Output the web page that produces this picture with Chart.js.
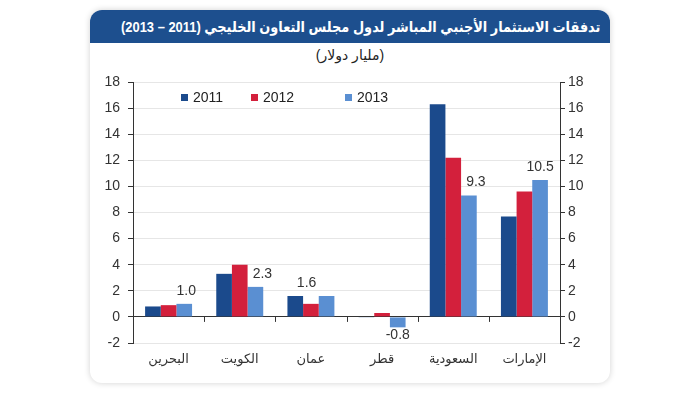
<!DOCTYPE html>
<html lang="ar">
<head>
<meta charset="utf-8">
<script src="https://cdn.jsdelivr.net/npm/chart.js@4.4.1/dist/chart.umd.min.js"></script>
<style>
  body { margin: 0; width: 700px; height: 393px; background: #fff; font-family: "Liberation Sans", "DejaVu Sans", sans-serif; position: relative; overflow: hidden; }
  .card { position: absolute; left: 90px; top: 10px; width: 520px; height: 373px; background: #fff; border-radius: 12px; box-shadow: 0 0 6px rgba(0,0,0,0.18); }
  .head { position: relative; height: 33px; background: #1d4f8e; border-radius: 12px 12px 0 0; color: #fff; font-weight: bold; font-size: 15px; line-height: 33px; white-space: nowrap; overflow: hidden; }
  .head span { position: absolute; right: 10px; top: 0; direction: rtl; transform: scaleX(0.86); transform-origin: right center; }
  .sub { text-align: center; font-size: 14px; color: #222; margin-top: 4px; direction: rtl; }
  #wrap { position: absolute; left: 90px; top: 62px; width: 520px; height: 313px; }
  .legend { position: absolute; top: 89px; left: 181px; font-size: 14px; color: #222; }
  .legend span { position: absolute; top: 0; display: flex; align-items: center; white-space: nowrap; }
  .legend i { display: inline-block; width: 7px; height: 7px; margin-right: 5px; }
</style>
</head>
<body>
<div class="card">
  <div class="head"><span>تدفقات الاستثمار الأجنبي المباشر لدول مجلس التعاون الخليجي (2011 – 2013)</span></div>
  <div class="sub">(مليار دولار)</div>
</div>
<div id="wrap"><canvas id="chart"></canvas></div>
<div class="legend" id="legend"></div>
<script>
const countries = ["البحرين", "الكويت", "عمان", "قطر", "السعودية", "الإمارات"];
const years = ["2011", "2012", "2013"];
const fdi2011 = [0.8, 3.3, 1.6, -0.05, 16.3, 7.7];
const fdi2012 = [0.9, 4.0, 1.0, 0.3, 12.2, 9.6];
const fdi2013 = [1.0, 2.3, 1.6, -0.8, 9.3, 10.5];
const yTicks = [-2, 0, 2, 4, 6, 8, 10, 12, 14, 16, 18];

const colors = ["#1b4a8c", "#d3203c", "#5a8fd2"];
const labelShift = [2, 7, -20, 0, 7, 0];
const legendLeft = [0, 70, 164];

const legend = document.getElementById("legend");
years.forEach((y, i) => {
  legend.innerHTML += '<span style="left:' + legendLeft[i] + 'px"><i style="background:' + colors[i] + '"></i>' + y + "</span>";
});

// labels on the 2013 bars
const valueLabels = {
  id: "valueLabels",
  afterDatasetsDraw(chart) {
    const ctx = chart.ctx;
    const meta = chart.getDatasetMeta(2);
    ctx.save();
    ctx.font = "14px 'Liberation Sans', sans-serif";
    ctx.fillStyle = "#333";
    ctx.textAlign = "center";
    meta.data.forEach((bar, i) => {
      const v = fdi2013[i];
      if (v >= 0) {
        ctx.textBaseline = "bottom";
        ctx.fillText(v.toFixed(1), bar.x + labelShift[i], bar.y - 6);
      } else {
        ctx.textBaseline = "top";
        ctx.fillText(v.toFixed(1), bar.x + labelShift[i], bar.y + 1);
      }
    });
    ctx.restore();
  }
};

// small ticks on the zero line between categories
const zeroTicks = {
  id: "zeroTicks",
  afterDatasetsDraw(chart) {
    const x = chart.scales.x, y = chart.scales.y;
    const y0 = y.getPixelForValue(0);
    const ctx = chart.ctx;
    ctx.save();
    ctx.strokeStyle = "#333";
    ctx.lineWidth = 1;
    for (let i = 1; i < countries.length; i++) {
      const px = Math.round((x.getPixelForValue(i - 1) + x.getPixelForValue(i)) / 2) + 0.5;
      ctx.beginPath();
      ctx.moveTo(px, y0);
      ctx.lineTo(px, y0 + 5);
      ctx.stroke();
    }
    ctx.restore();
  }
};

const tickFont = { family: "'Liberation Sans', sans-serif", size: 14 };

new Chart(document.getElementById("chart"), {
  type: "bar",
  data: {
    labels: countries,
    datasets: [
      { label: years[0], data: fdi2011, backgroundColor: colors[0] },
      { label: years[1], data: fdi2012, backgroundColor: colors[1] },
      { label: years[2], data: fdi2013, backgroundColor: colors[2] }
    ]
  },
  options: {
    responsive: true,
    maintainAspectRatio: false,
    animation: false,
    layout: { padding: { top: 20, left: 0, right: 0, bottom: 0 } },
    datasets: { bar: { barPercentage: 1, categoryPercentage: 0.66 } },
    plugins: { legend: { display: false }, tooltip: { enabled: false } },
    scales: {
      x: {
        grid: { display: false },
        border: { display: false },
        ticks: { color: "#333", font: { family: "'DejaVu Sans', sans-serif", size: 13 }, padding: 1 },
        afterFit(s) { s.height = 32; }
      },
      y: {
        position: "left",
        min: -2, max: 18,
        afterBuildTicks(s) { s.ticks = yTicks.map(v => ({ value: v })); },
        grid: {
          color: c => (c.tick && c.tick.value === 0 ? "#333" : "#e6e6e6"),
          tickColor: "#333",
          tickLength: 5
        },
        border: { display: true, color: "#333" },
        ticks: { color: "#333", font: tickFont, padding: 8 },
        afterFit(s) { s.width = 43; }
      },
      y2: {
        position: "right",
        min: -2, max: 18,
        afterBuildTicks(s) { s.ticks = yTicks.map(v => ({ value: v })); },
        grid: { drawOnChartArea: false, tickColor: "#333", tickLength: 5 },
        border: { display: true, color: "#333" },
        ticks: { color: "#333", font: tickFont, padding: 3 },
        afterFit(s) { s.width = 50; }
      }
    }
  },
  plugins: [valueLabels, zeroTicks]
});
</script>
</body>
</html>
